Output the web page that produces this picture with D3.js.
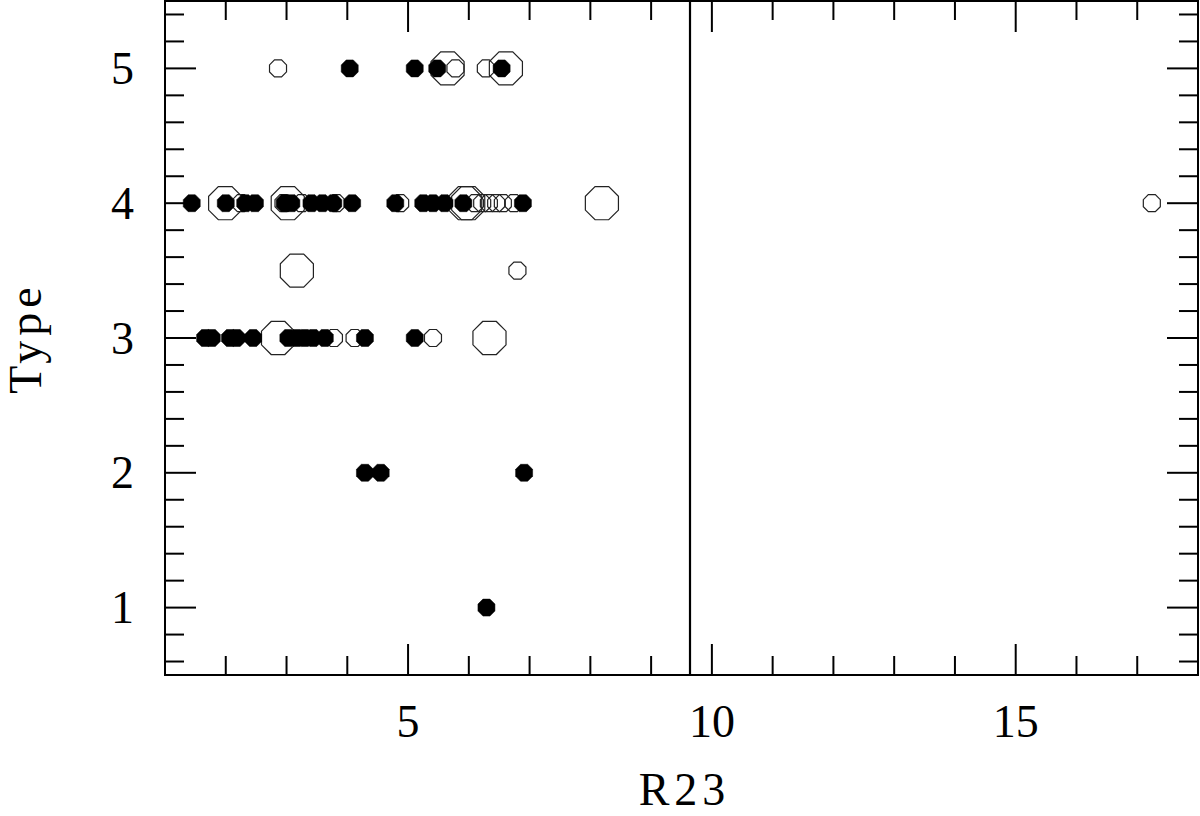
<!DOCTYPE html>
<html><head><meta charset="utf-8">
<script src="https://cdn.jsdelivr.net/npm/d3@7"></script>
<style>body{margin:0;background:#fff}svg{display:block}</style>
</head><body>
<script>
// ---- data ----
const filledR23 = [4.04,5.11,5.48,6.54,
  1.44,2.00,2.32,2.48,2.97,3.08,3.41,3.59,3.77,4.08,4.79,5.25,5.41,5.60,5.91,6.89,
  1.66,1.77,2.07,2.18,2.45,3.03,3.17,3.30,3.44,3.63,4.29,5.11,
  4.29,4.55,6.91,
  6.29];
const filledType = [5,5,5,5,
  4,4,4,4,4,4,4,4,4,4,4,4,4,4,4,4,
  3,3,3,3,3,3,3,3,3,3,3,3,
  2,2,2,
  1];
const openR23 = [2.86,5.78,6.28,
  2.25,2.95,3.25,3.82,4.87,6.10,6.22,6.33,6.45,6.56,6.74,17.24,
  6.80,
  3.78,4.12,5.41];
const openType = [5,5,5,
  4,4,4,4,4,4,4,4,4,4,4,4,
  3.5,
  3,3,3];
const bigR23 = [5.65,6.61, 1.99,3.02,5.94,5.99,8.19, 3.17, 2.86,6.34];
const bigType = [5,5, 4,4,4,4,4, 3.5, 3,3];
const cutR23 = 9.64;
const xMajor = [5,10,15];
const xMinor = d3.range(2,18,1);
const yMajor = [1,2,3,4,5];
const yMinor = d3.range(6,55,2).map(v=>v/10);
const xTitle = "R23", yTitle = "Type";

// ---- layout ----
const W=1200,H=816, L=165,R=1198,T=1,B=675;
const x = d3.scaleLinear().domain([1,18]).range([L,R]);
const y = d3.scaleLinear().domain([0.5,5.5]).range([B,T]);
const svg = d3.select("body").append("svg").attr("width",W).attr("height",H);
const font = "'Liberation Serif','Times New Roman',serif";

function octagon(r){
  const pts = d3.range(8).map(k=>{const a=(22.5+45*k)*Math.PI/180;return [r*Math.cos(a),r*Math.sin(a)];});
  return "M"+pts.map(p=>p.join(",")).join("L")+"Z";
}

// ticks
const tk = svg.append("g").attr("stroke","#000").attr("stroke-width",2);
const MAJ=31, MIN=19;
xMinor.forEach(v=>{
  const len = xMajor.includes(v)?MAJ:MIN;
  tk.append("line").attr("x1",x(v)).attr("x2",x(v)).attr("y1",B).attr("y2",B-len);
  tk.append("line").attr("x1",x(v)).attr("x2",x(v)).attr("y1",T).attr("y2",T+len);
});
yMinor.forEach(v=>{
  const len = yMajor.some(m=>Math.abs(m-v)<1e-6)?MAJ:MIN;
  tk.append("line").attr("y1",y(v)).attr("y2",y(v)).attr("x1",L).attr("x2",L+len);
  tk.append("line").attr("y1",y(v)).attr("y2",y(v)).attr("x1",R).attr("x2",R-len);
});
svg.append("rect").attr("x",L).attr("y",T).attr("width",R-L).attr("height",B-T)
  .attr("fill","none").attr("stroke","#000").attr("stroke-width",2);

// vertical cut line
svg.append("line").attr("x1",x(cutR23)).attr("x2",x(cutR23)).attr("y1",T).attr("y2",B)
  .attr("stroke","#000").attr("stroke-width",2.2);

// labels
svg.append("g").selectAll("text").data(xMajor).join("text")
  .attr("x",d=>x(d)).attr("y",737).attr("text-anchor","middle")
  .attr("font-family",font).attr("font-size",46).text(d=>d);
svg.append("g").selectAll("text").data(yMajor).join("text")
  .attr("x",134).attr("y",d=>y(d)+15.5).attr("text-anchor","end")
  .attr("font-family",font).attr("font-size",46).text(d=>d);
svg.append("text").attr("x",(L+R)/2+3).attr("y",805).attr("text-anchor","middle")
  .attr("font-family",font).attr("font-size",46).attr("letter-spacing",5).text(xTitle);
svg.append("text").attr("transform",`translate(41,${(T+B)/2}) rotate(-90)`)
  .attr("text-anchor","middle").attr("font-family",font).attr("font-size",46)
  .attr("letter-spacing",5).text(yTitle);

// points
const big = octagon(17.9), small = octagon(9.2);
svg.append("g").selectAll("path").data(d3.zip(bigR23,bigType)).join("path")
  .attr("d",big).attr("transform",d=>`translate(${x(d[0])},${y(d[1])})`)
  .attr("fill","none").attr("stroke","#222").attr("stroke-width",1.2);
svg.append("g").selectAll("path").data(d3.zip(openR23,openType)).join("path")
  .attr("d",small).attr("transform",d=>`translate(${x(d[0])},${y(d[1])})`)
  .attr("fill","none").attr("stroke","#222").attr("stroke-width",1.2);
svg.append("g").selectAll("path").data(d3.zip(filledR23,filledType)).join("path")
  .attr("d",small).attr("transform",d=>`translate(${x(d[0])},${y(d[1])})`)
  .attr("fill","#000").attr("stroke","#000").attr("stroke-width",0.5);
</script>
</body></html>
